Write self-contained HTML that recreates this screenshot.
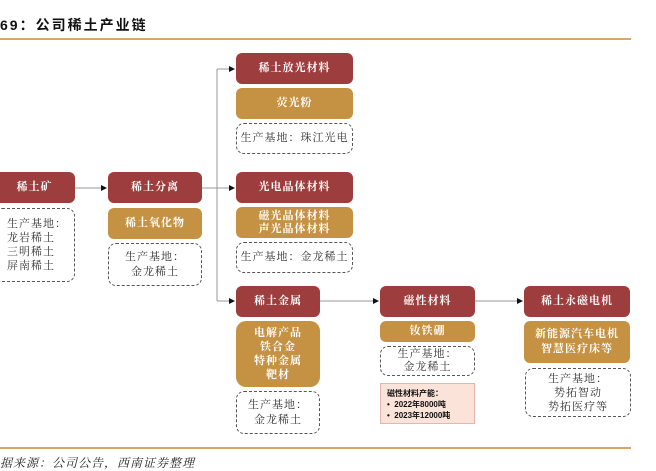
<!DOCTYPE html>
<html><head><meta charset="utf-8"><style>
body{margin:0;width:656px;height:468px;background:#fff;position:relative;overflow:hidden;font-family:"Liberation Serif","Noto Serif CJK SC",serif;}
.b{position:absolute;box-sizing:border-box;display:flex;align-items:center;justify-content:center;text-align:center;font-size:11px;line-height:15px;border-radius:6px;letter-spacing:1px;white-space:nowrap;}
.r{background:#9e3d3d;color:#fff;font-weight:bold;}
.g{background:#c59243;color:#fff;font-weight:bold;}
.d{border:1px dashed #555;color:#333;border-radius:8px;}
.t{position:absolute;font-family:"Liberation Sans","Noto Sans CJK SC",sans-serif;}
svg{position:absolute;left:0;top:0;}
</style></head><body>
<div class="t" style="left:0;top:15px;font-size:14px;font-weight:bold;color:#111;letter-spacing:2px;">69：公司稀土产业链</div>
<div style="position:absolute;left:0;top:38px;width:631px;height:2px;background:#d9a56a;"></div>
<div style="position:absolute;left:0;top:447px;width:631px;height:2px;background:#d9a56a;"></div>
<div class="t" style="left:0;top:454px;font-size:12px;font-style:italic;color:#222;letter-spacing:1px;font-family:'Noto Serif CJK SC',serif;">据来源：公司公告，西南证券整理</div>
<svg width="656" height="468">
<defs><marker id="a" markerWidth="6" markerHeight="6" refX="5" refY="3" orient="auto"><path d="M0,0L6,3L0,6z" fill="#111"/></marker></defs>
<g stroke="#999" stroke-width="1" fill="none">
<line x1="75" y1="188" x2="106" y2="188" marker-end="url(#a)"/>
<line x1="202" y1="188" x2="234" y2="188" marker-end="url(#a)"/>
<line x1="217" y1="69" x2="217" y2="301"/>
<line x1="217" y1="69" x2="234" y2="69" marker-end="url(#a)"/>
<line x1="217" y1="301" x2="234" y2="301" marker-end="url(#a)"/>
<line x1="320" y1="301" x2="378" y2="301" marker-end="url(#a)"/>
<line x1="475" y1="301" x2="522" y2="301" marker-end="url(#a)"/>
</g></svg>
<div class="b r" style="left:236px;top:53px;width:117px;height:31px;">稀土放光材料</div>
<div class="b g" style="left:236px;top:88px;width:117px;height:31px;">荧光粉</div>
<div class="b d" style="left:236px;top:123px;width:117px;height:31px;">生产基地：珠江光电</div>
<div class="b r" style="left:-6px;top:172px;width:81px;height:31px;">稀土矿</div>
<div class="b d" style="left:-6px;top:208px;width:81px;height:74px;justify-content:flex-start;text-align:left;padding-left:12px;line-height:14px;">生产基地：<br>龙岩稀土<br>三明稀土<br>屏南稀土</div>
<div class="b r" style="left:108px;top:172px;width:94px;height:31px;">稀土分离</div>
<div class="b g" style="left:108px;top:208px;width:94px;height:31px;">稀土氧化物</div>
<div class="b d" style="left:108px;top:243px;width:94px;height:43px;">生产基地：<br>金龙稀土</div>
<div class="b r" style="left:236px;top:172px;width:117px;height:31px;">光电晶体材料</div>
<div class="b g" style="left:236px;top:207px;width:117px;height:31px;line-height:13px;">磁光晶体材料<br>声光晶体材料</div>
<div class="b d" style="left:236px;top:242px;width:117px;height:31px;">生产基地：金龙稀土</div>
<div class="b r" style="left:236px;top:286px;width:84px;height:31px;">稀土金属</div>
<div class="b g" style="left:236px;top:321px;width:84px;height:66px;border-radius:10px;line-height:14px;">电解产品<br>铁合金<br>特种金属<br>靶材</div>
<div class="b d" style="left:236px;top:391px;width:84px;height:43px;">生产基地：<br>金龙稀土</div>
<div class="b r" style="left:380px;top:286px;width:95px;height:31px;">磁性材料</div>
<div class="b g" style="left:380px;top:321px;width:95px;height:21px;">钕铁硼</div>
<div class="b d" style="left:380px;top:346px;width:95px;height:30px;line-height:13px;">生产基地：<br>金龙稀土</div>
<div class="b" style="left:380px;top:383px;width:95px;height:41px;background:#fbe3d9;border:1px solid #e8b5aa;border-radius:0;display:block;text-align:left;font-size:8px;line-height:11px;padding:4px 0 0 6px;letter-spacing:0;font-family:'Liberation Sans','Noto Sans CJK SC',sans-serif;color:#111;font-weight:bold;">磁性材料产能：<br>•&nbsp; 2022年8000吨<br>•&nbsp; 2023年12000吨</div>
<div class="b r" style="left:524px;top:286px;width:106px;height:31px;">稀土永磁电机</div>
<div class="b g" style="left:524px;top:321px;width:106px;height:42px;">新能源汽车电机<br>智慧医疗床等</div>
<div class="b d" style="left:525px;top:368px;width:106px;height:49px;line-height:14px;">生产基地：<br>势拓智动<br>势拓医疗等</div>
</body></html>
